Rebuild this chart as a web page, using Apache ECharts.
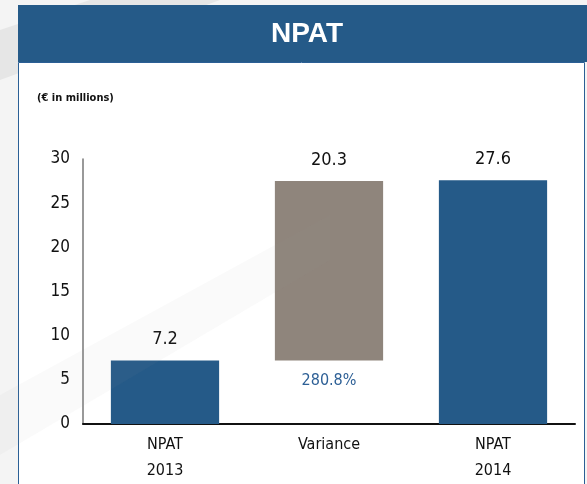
<!DOCTYPE html>
<html style="height: 100%">

<head>
    <meta charset="utf-8">
    <script src="https://cdn.jsdelivr.net/npm/echarts@6/dist/echarts.min.js"></script>
</head>

<body style="height: 100%; margin: 0; background: #f4f4f4">
    <div id="main" style="width: 587px;height:484px;"></div>
    <script type="text/javascript">
        var categories = ['NPAT\n2013', 'Variance', 'NPAT\n2014'];
        var baseValues = [0, 7.2, 0];
        var barValues = [7.2, 20.3, 27.6];
        var barColors = ['#255a88', '#8f857c', '#255a88'];
        var variancePct = '280.8%';
        var yTicks = { min: 0, max: 30, interval: 5 };

        var narrow = "'DejaVu Sans Condensed', 'Liberation Sans Narrow', sans-serif";

        var myChart = echarts.init(document.getElementById('main'));
        myChart.setOption(option = {
            backgroundColor: '#f4f4f4',
            animation: false,
            title: [{
                text: 'NPAT',
                left: 302,
                top: 15,
                textAlign: 'center',
                textStyle: {
                    color: '#ffffff',
                    fontFamily: 'Liberation Sans, Arial, sans-serif',
                    fontWeight: 'bold',
                    fontSize: 28
                }
            }, {
                text: '(€ in millions)',
                left: 32,
                top: 88,
                textStyle: {
                    color: '#111',
                    fontFamily: narrow,
                    fontWeight: 'bold',
                    fontSize: 11
                }
            }],
            graphic: [
                // faint stripe behind everything
                {
                    type: 'polygon', z: -20, silent: true,
                    shape: { points: [[0, 80], [0, 30], [90, 0], [220, 0]] },
                    style: { fill: '#e6e6e6' }
                },
                // header bar
                {
                    type: 'rect', z: -10,
                    shape: { x: 18, y: 5, width: 569, height: 57 },
                    style: { fill: '#255a88' }
                },
                // white panel
                {
                    type: 'rect', z: -10,
                    shape: { x: 18.5, y: 62.5, width: 566, height: 430 },
                    style: { fill: '#ffffff', stroke: '#2b5f95', lineWidth: 1 }
                },
                // watermark band across the panel
                {
                    type: 'polygon', z: 100, silent: true,
                    shape: { points: [[0, 455], [0, 395], [330, 215], [330, 260]] },
                    style: { fill: '#9a9a9a', opacity: 0.05 }
                }
            ],
            grid: {
                left: 83,
                right: 12,
                top: 159,
                bottom: 58
            },
            xAxis: {
                type: 'category',
                data: categories,
                axisLine: { lineStyle: { color: '#111', width: 2 } },
                axisTick: { show: false },
                axisLabel: {
                    color: '#111',
                    fontFamily: narrow,
                    fontSize: 16,
                    lineHeight: 26,
                    margin: 8
                }
            },
            yAxis: {
                type: 'value',
                min: yTicks.min,
                max: yTicks.max,
                interval: yTicks.interval,
                axisLine: { show: true, lineStyle: { color: '#777', width: 1.5 } },
                axisTick: { show: false },
                splitLine: { show: false },
                axisLabel: {
                    color: '#111',
                    fontFamily: narrow,
                    fontSize: 17,
                    margin: 13
                }
            },
            series: [{
                type: 'bar',
                stack: 'w',
                barWidth: '66%',
                itemStyle: { color: 'transparent' },
                data: baseValues.map(function (v, i) {
                    if (i !== 1) return v;
                    return {
                        value: v,
                        label: {
                            show: true,
                            position: 'insideTop',
                            distance: 12,
                            formatter: variancePct,
                            color: '#2e6096',
                            fontFamily: narrow,
                            fontSize: 16
                        }
                    };
                })
            }, {
                type: 'bar',
                stack: 'w',
                barWidth: '66%',
                data: barValues.map(function (v, i) {
                    return { value: v, itemStyle: { color: barColors[i] } };
                }),
                label: {
                    show: true,
                    position: 'top',
                    distance: 12,
                    color: '#111',
                    fontFamily: narrow,
                    fontSize: 18
                }
            }]
        }, true);
    </script>
</body>

</html>
